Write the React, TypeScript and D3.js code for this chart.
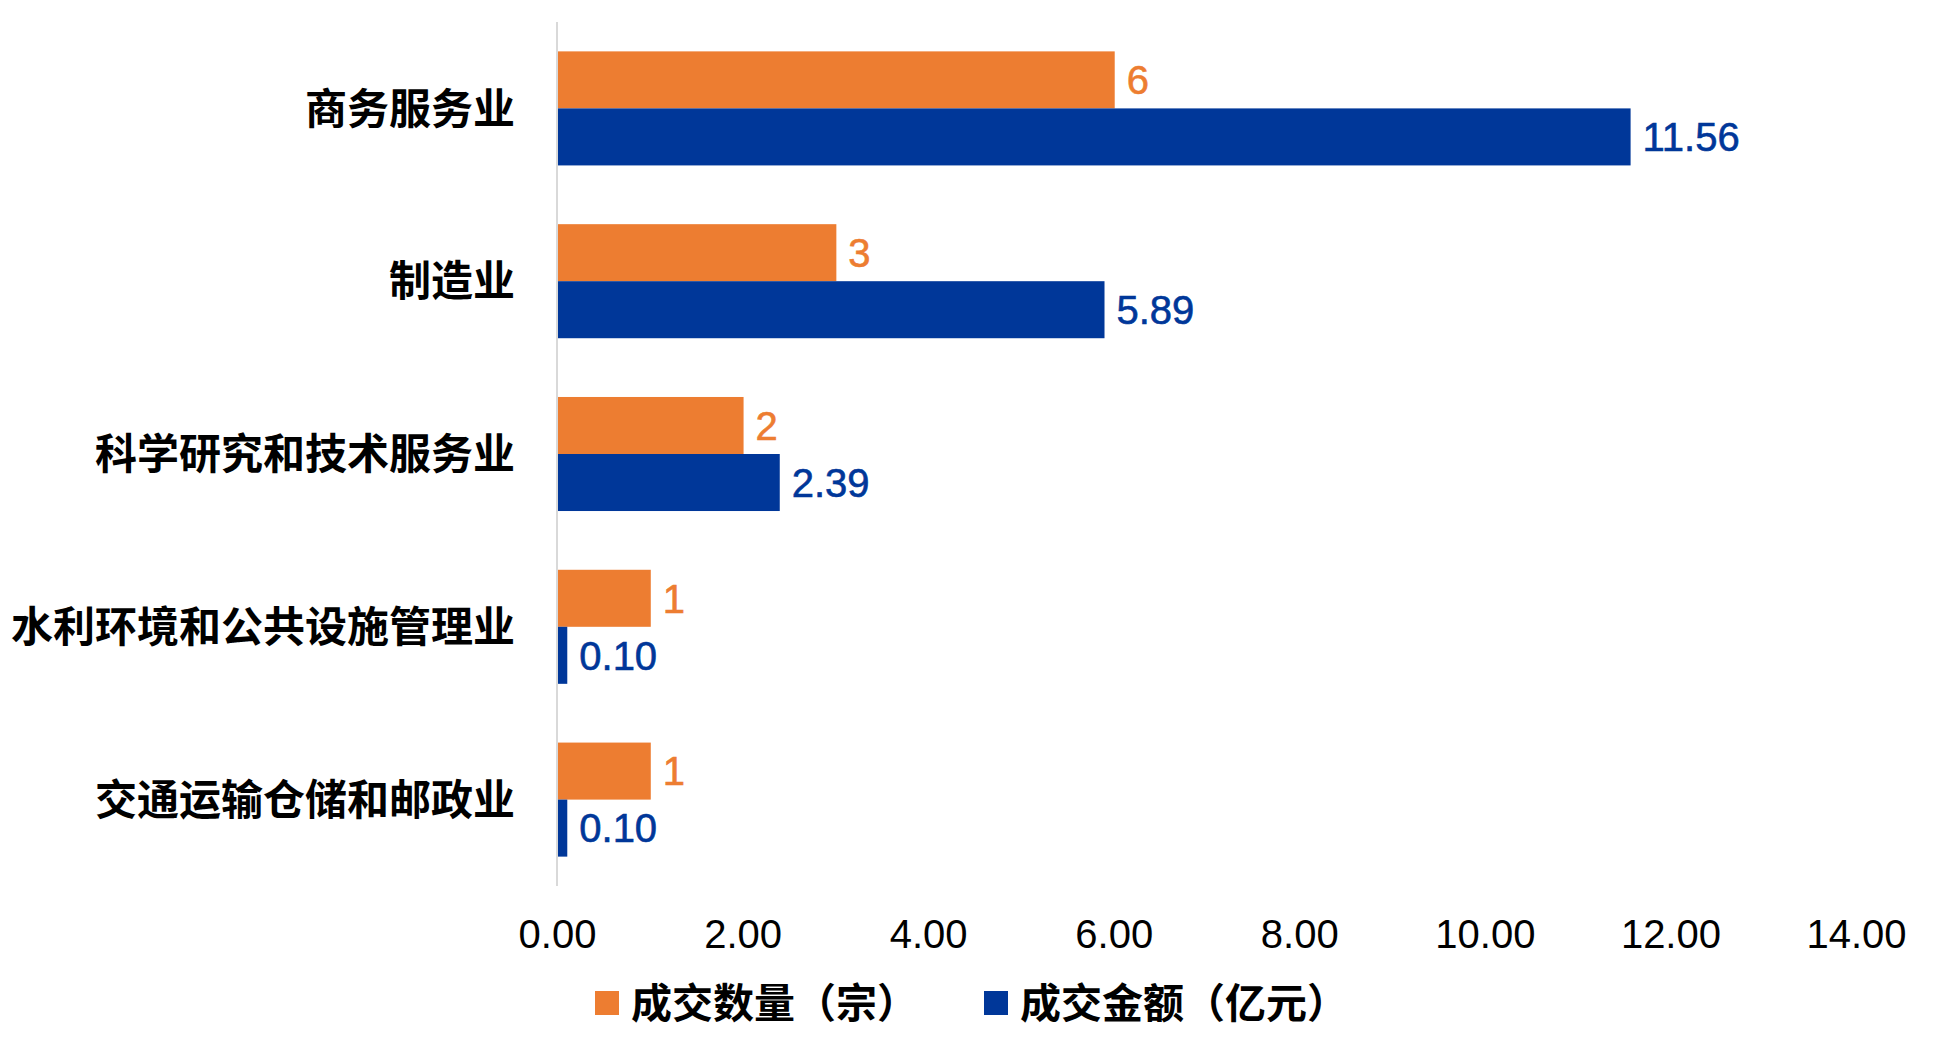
import React, { useEffect, useRef } from "react";
import * as d3 from "d3";

const categories = [
    "商务服务业",
    "制造业",
    "科学研究和技术服务业",
    "水利环境和公共设施管理业",
    "交通运输仓储和邮政业",
];
const dealCount = [6, 3, 2, 1, 1];
const dealAmount = [11.56, 5.89, 2.39, 0.1, 0.1];
const seriesNames = ["成交数量（宗）", "成交金额（亿元）"];
const xTicks = [0, 2, 4, 6, 8, 10, 12, 14];

const ORANGE = "#ED7D31";
const BLUE = "#003799";
const LATIN = "'Liberation Sans', Arial, sans-serif";
const CJK = "'Noto Sans CJK SC', 'Noto Sans', sans-serif";

export default function App() {
    const ref = useRef<SVGSVGElement>(null);

    useEffect(() => {
        const svg = d3.select(ref.current);
        svg.selectAll("*").remove();

        const x = d3.scaleLinear().domain([0, 14]).range([557, 1856]);
        const y = d3.scaleBand<string>()
            .domain(categories)
            .range([22, 886])
            .paddingInner(0.34)
            .paddingOuter(0.17);
        const inner = d3.scaleBand<string>()
            .domain(seriesNames)
            .range([0, y.bandwidth()]);

        const rows = categories.map((c, i) => ({
            cat: c,
            vals: [
                { s: seriesNames[0], v: dealCount[i], fmt: d3.format("d"), color: ORANGE },
                { s: seriesNames[1], v: dealAmount[i], fmt: d3.format(".2f"), color: BLUE },
            ],
        }));

        // vertical baseline
        svg.append("line")
            .attr("x1", x(0)).attr("x2", x(0))
            .attr("y1", 22).attr("y2", 886)
            .attr("stroke", "#d9d9d9")
            .attr("stroke-width", 2);

        const groups = svg.selectAll("g.row")
            .data(rows)
            .enter().append("g")
            .attr("class", "row")
            .attr("transform", (d) => `translate(0,${y(d.cat)})`);

        groups.selectAll("rect")
            .data((d) => d.vals)
            .enter().append("rect")
            .attr("x", x(0) + 1)
            .attr("y", (d) => inner(d.s)!)
            .attr("width", (d) => x(d.v) - x(0))
            .attr("height", inner.bandwidth())
            .attr("fill", (d) => d.color);

        groups.selectAll("text.val")
            .data((d) => d.vals)
            .enter().append("text")
            .attr("class", "val")
            .attr("x", (d) => x(d.v) + 13)
            .attr("y", (d) => inner(d.s)! + inner.bandwidth() / 2)
            .attr("dy", "0.36em")
            .attr("fill", (d) => d.color)
            .attr("font-family", LATIN)
            .attr("font-size", 40)
            .attr("stroke", (d) => d.color)
            .attr("stroke-width", 0.6)
            .text((d) => d.fmt(d.v));

        // category labels
        svg.selectAll("text.cat")
            .data(categories)
            .enter().append("text")
            .attr("class", "cat")
            .attr("x", 515)
            .attr("y", (d) => y(d)! + y.bandwidth() / 2)
            .attr("dy", "0.36em")
            .attr("text-anchor", "end")
            .attr("font-family", CJK)
            .attr("font-weight", 700)
            .attr("font-size", 42)
            .attr("fill", "#000")
            .text((d) => d);

        const xAxis = d3.axisBottom(x)
            .tickValues(xTicks)
            .tickFormat(d3.format(".2f"))
            .tickSize(0)
            .tickPadding(34);
        const axisG = svg.append("g")
            .attr("transform", "translate(0,886)")
            .call(xAxis);
        axisG.select(".domain").remove();
        axisG.selectAll("text")
            .attr("font-family", LATIN)
            .attr("font-size", 40)
            .attr("fill", "#000");

        // legend
        const legend = [
            { name: seriesNames[0], color: ORANGE, x: 595 },
            { name: seriesNames[1], color: BLUE, x: 984 },
        ];
        const lg = svg.selectAll("g.legend")
            .data(legend)
            .enter().append("g")
            .attr("class", "legend")
            .attr("transform", (d) => `translate(${d.x},1003)`);
        lg.append("rect")
            .attr("x", 0).attr("y", -12)
            .attr("width", 24).attr("height", 24)
            .attr("fill", (d) => d.color);
        lg.append("text")
            .attr("x", 36)
            .attr("dy", "0.36em")
            .attr("font-family", CJK)
            .attr("font-weight", 700)
            .attr("font-size", 41)
            .attr("fill", "#000")
            .text((d) => d.name);
    }, []);

    return (
        <div style={{ position: "absolute", left: 0, top: 0 }}>
            <svg ref={ref} width={1934} height={1050} style={{ display: "block", background: "#fff" }}></svg>
        </div>
    );
}
